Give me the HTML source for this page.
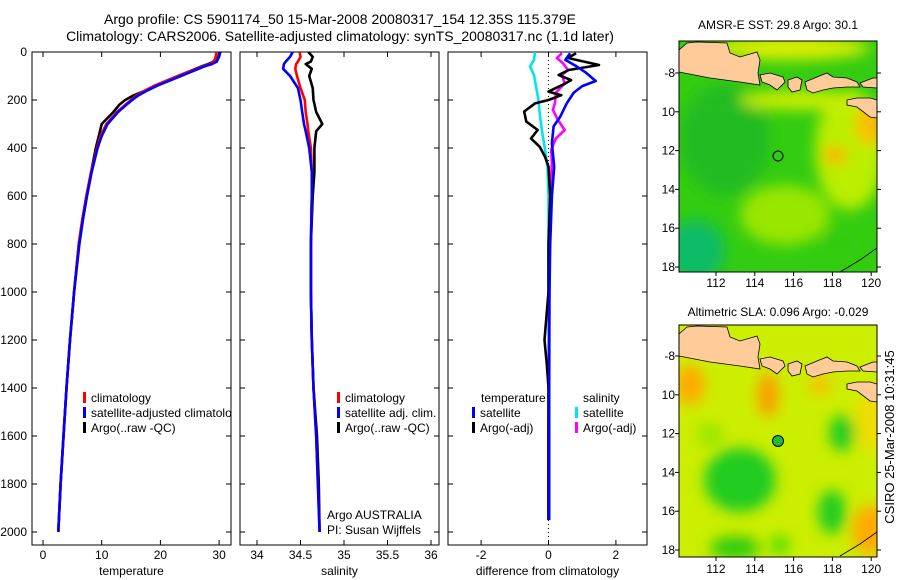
<!DOCTYPE html>
<html><head><meta charset="utf-8">
<style>
html,body{margin:0;padding:0;background:#fff;}
svg{display:block;font-family:"Liberation Sans",sans-serif;}
text{fill:#000;}
</style></head>
<body>
<svg id="chart" width="900" height="580" viewBox="0 0 900 580" xmlns="http://www.w3.org/2000/svg">
<defs>
  <clipPath id="c1"><rect x="32" y="52" width="199" height="493"/></clipPath>
  <clipPath id="c2"><rect x="240" y="52" width="199" height="493"/></clipPath>
  <clipPath id="c3"><rect x="448" y="52" width="199" height="493"/></clipPath>
  <clipPath id="m1"><rect x="679" y="41" width="198" height="231"/></clipPath>
  <clipPath id="m2"><rect x="679" y="325" width="198" height="232"/></clipPath>
  <filter id="blur" x="-50%" y="-50%" width="200%" height="200%"><feGaussianBlur stdDeviation="7"/></filter>
</defs>
<text x="340" y="24" font-size="14" text-anchor="middle">Argo profile: CS 5901174_50 15-Mar-2008 20080317_154 12.35S 115.379E</text>
<text x="340" y="41" font-size="14" text-anchor="middle">Climatology: CARS2006. Satellite-adjusted climatology: synTS_20080317.nc (1.1d later)</text>

<!-- top map -->
<g>
<text x="778" y="29" font-size="12" text-anchor="middle">AMSR-E SST: 29.8 Argo: 30.1</text>
<g clip-path="url(#m1)">
  <rect x="679" y="41" width="198" height="231" fill="#33cc11"/>
  <g filter="url(#blur)">
    <ellipse cx="725" cy="140" rx="45" ry="55" fill="#22bb22"/>
    <ellipse cx="695" cy="250" rx="30" ry="30" fill="#11bb66"/>
    <ellipse cx="785" cy="215" rx="45" ry="30" fill="#99e600"/>
    <ellipse cx="850" cy="150" rx="35" ry="60" fill="#bbee00"/>
    <ellipse cx="870" cy="125" rx="14" ry="20" fill="#ffbb00"/>
    <ellipse cx="835" cy="155" rx="12" ry="8" fill="#ffaa00"/>
    <ellipse cx="790" cy="48" rx="80" ry="12" fill="#ddee00"/>
    <ellipse cx="800" cy="100" rx="60" ry="10" fill="#ccee00"/>
    <ellipse cx="840" cy="245" rx="20" ry="18" fill="#33cc11"/>
  </g>
  <g fill="#ffcc99" stroke="#000" stroke-width="0.8">
    <polygon points="679,50 687,43 697,42 727,43 730,53 740,57 757,52 760,60 758,73 760,85 740,82 710,78 679,72"/>
    <polygon points="760,75 770,73 783,77 785,82 777,90 770,85 762,82"/>
    <polygon points="788,80 797,77 802,80 800,90 792,92 788,87"/>
    <polygon points="805,82 817,77 827,73 833,77 847,78 857,82 860,87 847,87 833,88 823,90 813,93 807,90"/>
    <polygon points="860,83 873,78 877,78 877,88 863,87"/>
    <polygon points="847,100 857,98 870,98 877,100 877,118 870,117 857,107 847,105"/>
    <polyline fill="none" points="840,272 860,260 877,248"/>
  </g>
  <circle cx="778" cy="156" r="5" fill="none" stroke="#000" stroke-width="1"/>
</g>
<rect x="679" y="41" width="198" height="231" fill="none" stroke="#000"/>
</g>

<!-- bottom map -->
<g>
<text x="778" y="316" font-size="12" text-anchor="middle">Altimetric SLA: 0.096 Argo: -0.029</text>
<g clip-path="url(#m2)">
  <rect x="679" y="325" width="198" height="232" fill="#ccee00"/>
  <g filter="url(#blur)">
    <ellipse cx="690" cy="385" rx="15" ry="20" fill="#ffaa00"/>
    <ellipse cx="768" cy="395" rx="10" ry="22" fill="#ff9900"/>
    <ellipse cx="820" cy="385" rx="10" ry="10" fill="#ffbb00"/>
    <ellipse cx="870" cy="530" rx="18" ry="25" fill="#ffaa00"/>
    <ellipse cx="870" cy="420" rx="15" ry="30" fill="#eedd00"/>
    <ellipse cx="740" cy="480" rx="36" ry="32" fill="#22cc22"/>
    <ellipse cx="842" cy="433" rx="13" ry="18" fill="#22cc22"/>
    <ellipse cx="832" cy="512" rx="14" ry="22" fill="#22cc22"/>
    <ellipse cx="735" cy="548" rx="25" ry="12" fill="#33cc11"/>
    <ellipse cx="710" cy="435" rx="14" ry="12" fill="#99e600"/>
    <ellipse cx="780" cy="545" rx="10" ry="10" fill="#55dd00"/>
  </g>
  <g fill="#ffcc99" stroke="#000" stroke-width="0.8" transform="translate(0,284)">
    <polygon points="679,50 687,43 697,42 727,43 730,53 740,57 757,52 760,60 758,73 760,85 740,82 710,78 679,72"/>
    <polygon points="760,75 770,73 783,77 785,82 777,90 770,85 762,82"/>
    <polygon points="788,80 797,77 802,80 800,90 792,92 788,87"/>
    <polygon points="805,82 817,77 827,73 833,77 847,78 857,82 860,87 847,87 833,88 823,90 813,93 807,90"/>
    <polygon points="860,83 873,78 877,78 877,88 863,87"/>
    <polygon points="847,100 857,98 870,98 877,100 877,118 870,117 857,107 847,105"/>
    <polyline fill="none" points="840,272 860,260 877,248"/>
  </g>
  <circle cx="778" cy="441" r="5.5" fill="#22bb33" stroke="#000" stroke-width="1"/>
</g>
<rect x="679" y="325" width="198" height="232" fill="none" stroke="#000"/>
</g>
<text transform="translate(894,437) rotate(-90)" font-size="13" text-anchor="middle">CSIRO 25-Mar-2008 10:31:45</text>
<g id="dyn"></g>
</svg>
<script>
// ---- data ----
const depthTicks = [0,200,400,600,800,1000,1200,1400,1600,1800,2000];
const tempTicks = [0,10,20,30];
const salTicks = [34,34.5,35,35.5,36];
const salTickLabels = ['34','34.5','35','35.5','36'];
const diffTicks = [-2,0,2];
const lonTicks = [112,114,116,118,120];
const latTicks = [-8,-10,-12,-14,-16,-18];
const latTickLabels = ['-8','10','12','14','16','18'];

const depthT = [0,10,20,30,40,50,60,70,80,100,120,140,160,180,200,220,250,300,350,400,500,600,700,800,1000,1200,1400,1600,1800,2000];
const tempSat = [30.2,30.1,30.0,29.8,29.6,28.8,27.5,26.5,25.5,23.5,21.5,19.5,17.8,16.3,15.2,14.2,12.8,11.0,10.0,9.3,8.3,7.5,6.8,6.2,5.3,4.6,4.0,3.5,3.0,2.6];
const tempClim = [29.5,29.5,29.4,29.3,29.0,28.5,27.2,26.2,25.0,23.0,21.0,19.0,17.4,16.0,15.0,14.0,12.6,10.8,9.8,9.2,8.2,7.4,6.7,6.1,5.3,4.6,4.0,3.5,3.0,2.6];
const tempArgo = [30.0,30.0,29.9,29.6,29.0,28.2,27.0,26.0,25.0,23.0,21.0,19.2,17.5,15.5,14.0,13.0,12.0,10.0,9.5,9.0,8.2,7.4,6.7,6.1,5.3,4.6,4.0,3.5,3.0,2.6];

const depthS = [0,20,40,50,70,100,150,200,250,300,330,400,500,600,800,1000,1200,1400,1600,1800,2000];
const salSat = [34.41,34.38,34.33,34.31,34.3,34.38,34.47,34.5,34.52,34.54,34.56,34.6,34.63,34.63,34.62,34.62,34.63,34.65,34.68,34.7,34.72];
const salClim = [34.49,34.5,34.47,34.45,34.44,34.46,34.5,34.55,34.56,34.58,34.59,34.62,34.63,34.63,34.62,34.62,34.63,34.65,34.68,34.7,34.72];
const salArgo = [34.59,34.64,34.62,34.56,34.63,34.6,34.64,34.65,34.68,34.75,34.68,34.66,34.66,34.64,34.62,34.62,34.63,34.65,34.69,34.71,34.72];

const depthDT = [5,33,57,85,121,142,169,214,269,310,380,478,600,800,1000,1400,1950];
const diffTempSat = [0.64,0.5,0.8,1.1,1.4,1.0,0.75,0.54,0.35,0.15,0.1,0.17,0.1,0.05,0.03,0.02,0.02];
const depthDA = [5,25,54,75,96,117,131,165,180,200,214,248,290,325,360,395,437,478,600,800,1000,1200,1300,1400,1600,1800,1950];
const diffTempArgo = [0.82,0.58,1.5,0.6,0.3,0.67,0.5,0,0.38,0,-0.4,-0.72,-0.66,-0.32,-0.52,-0.26,-0.1,0,0.05,0,0,-0.12,-0.05,0,0,0,0];
const depthDS = [0,33,61,96,142,200,269,340,408,478,600,1000,1950];
const diffSalSat = [-0.4,-0.43,-0.55,-0.43,-0.37,-0.3,-0.25,-0.18,-0.1,-0.03,0,0,0];
const depthDM = [5,25,47,75,96,131,169,214,241,283,325,360,408,464,600,1000,1600,1950];
const diffSalArgo = [0.4,0.25,0.43,0.58,0.4,0.48,0.22,0.19,0.13,0.28,0.48,0.22,0.08,0.1,0.05,0.02,0,0];

// ---- scales ----
const TOP=52, BOT=545;
const yD = d => 52 + d*0.24;
const xT = t => 43 + t*5.87;
const xS = s => 257 + (s-34)*87;
const xDf = v => 548.5 + v*33.7;
const xLon = l => 716 + (l-112)*19.4;
const yLat1 = l => 73 + (-8 - l)*19.4;
const yLat2 = l => 356 + (-8 - l)*19.4;

const NS='http://www.w3.org/2000/svg';
const root=document.getElementById('dyn');
function mk(tag, attrs, parent){
  const e=document.createElementNS(NS,tag);
  for(const k in attrs) e.setAttribute(k,attrs[k]);
  (parent||root).appendChild(e); return e;
}
function txt(s,x,y,anchor,size,parent){
  const t=mk('text',{x:x,y:y,'text-anchor':anchor||'middle','font-size':size||12},parent);
  t.textContent=s; return t;
}

const panels=[
 {x0:32,x1:231,clip:'c1',name:'temperature-panel',xs:xT,ticks:tempTicks,labels:tempTicks.map(String),title:'temperature'},
 {x0:240,x1:439,clip:'c2',name:'salinity-panel',xs:xS,ticks:salTicks,labels:salTickLabels,title:'salinity'},
 {x0:448,x1:647,clip:'c3',name:'difference-panel',xs:xDf,ticks:diffTicks,labels:diffTicks.map(String),title:'difference from climatology'}
];
panels.forEach((p,i)=>{
  const g=mk('g',{});
  
  
  const fr=mk('rect',{x:p.x0,y:TOP,width:p.x1-p.x0,height:BOT-TOP,fill:'none',stroke:'#000','stroke-width':1},g);
  
  
  depthTicks.forEach(d=>{
    const y=yD(d);
    const t1=mk('line',{x1:p.x0,x2:p.x0+5,y1:y,y2:y,stroke:'#000'},g);
    
    
    const t2=mk('line',{x1:p.x1-5,x2:p.x1,y1:y,y2:y,stroke:'#000'},g);
    
    
    if(i===0){
      const l=txt(String(d),27,y+4,'end',12,g);
      
      
    }
  });
  p.ticks.forEach((v,k)=>{
    const x=p.xs(v);
    const a=mk('line',{x1:x,x2:x,y1:TOP,y2:TOP+5,stroke:'#000'},g);
    
    
    const b=mk('line',{x1:x,x2:x,y1:BOT-5,y2:BOT,stroke:'#000'},g);
    
    
    const l=txt(p.labels[k],x,559,'middle',12,g);
    
    
  });
  const tt=txt(p.title,(p.x0+p.x1)/2,575,'middle',12,g);
  
  
});

// zero line in difference panel
const zl=mk('line',{x1:xDf(0),x2:xDf(0),y1:TOP,y2:BOT,stroke:'#000','stroke-dasharray':'1,3'});



function series(depths, vals, xs, color, clip, name){
  const pts=depths.map((d,i)=>xs(vals[i]).toFixed(1)+','+yD(d).toFixed(1)).join(' ');
  const pl=mk('polyline',{points:pts,fill:'none',stroke:color,'stroke-width':2.6,'stroke-linejoin':'round','clip-path':'url(#'+clip+')'});
  
  
}
series(depthT,tempArgo,xT,'#000','c1','temp-argo-line');
series(depthT,tempClim,xT,'#f00','c1','temp-climatology-line');
series(depthT,tempSat,xT,'#00f','c1','temp-satellite-line');
series(depthS,salArgo,xS,'#000','c2','sal-argo-line');
series(depthS,salClim,xS,'#f00','c2','sal-climatology-line');
series(depthS,salSat,xS,'#00f','c2','sal-satellite-line');
series(depthDS,diffSalSat,xDf,'#00e5ee','c3','diff-sal-satellite-line');
series(depthDM,diffSalArgo,xDf,'#f0f','c3','diff-sal-argo-line');
series(depthDA,diffTempArgo,xDf,'#000','c3','diff-temp-argo-line');
series(depthDT,diffTempSat,xDf,'#00f','c3','diff-temp-satellite-line');

function legend(x,y,color,label,clip){
  const g=mk('g',{'clip-path':clip?'url(#'+clip+')':''});
  
  
  mk('rect',{x:x,y:y-10,width:3,height:11,fill:color},g);
  txt(label,x+8,y,'start',12,g);
}
legend(83,402,'#f00','climatology','c1');
legend(83,417,'#00f','satellite-adjusted climatology','c1');
legend(83,432,'#000','Argo(..raw -QC)','c1');
legend(337,402,'#f00','climatology','c2');
legend(337,417,'#00f','satellite adj. clim.','c2');
legend(337,432,'#000','Argo(..raw -QC)','c2');
const th=txt('temperature',481,402,'start',12);


const sh=txt('salinity',583,402,'start',12);


legend(472,417,'#00f','satellite','c3');
legend(472,432,'#000','Argo(-adj)','c3');
legend(575,417,'#00e5ee','satellite','c3');
legend(575,432,'#f0f','Argo(-adj)','c3');
const a1=txt('Argo AUSTRALIA',327,519,'start',12);


const a2=txt('PI: Susan Wijffels',327,534,'start',12);



// map axes
[[41,272,yLat1,287],[325,557,yLat2,573]].forEach(([t,b,yl,ly])=>{
  lonTicks.forEach(l=>{
    const x=xLon(l);
    const tk=mk('line',{x1:x,x2:x,y1:b,y2:b+4,stroke:'#000'});
    
    
    const lb=txt(String(l),x,ly,'middle',12);
    
    
  });
  latTicks.forEach((l,k)=>{
    const y=yl(l);
    const tk=mk('line',{x1:675,x2:679,y1:y,y2:y,stroke:'#000'});
    
    
    const tk2=mk('line',{x1:877,x2:881,y1:y,y2:y,stroke:'#000'});
    
    
    const lb=txt(latTickLabels[k],675,y+4,'end',12);
    
    
  });
});
</script>
</body></html>
